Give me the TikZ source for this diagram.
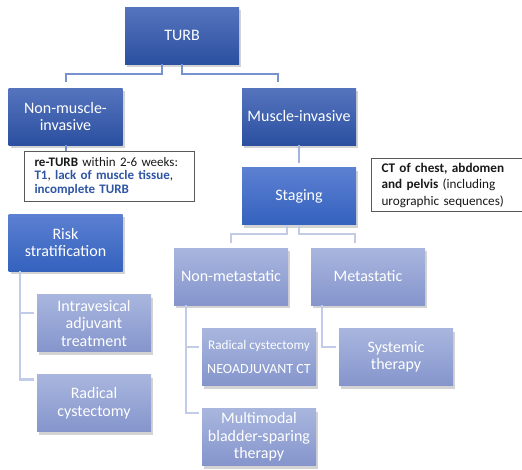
\documentclass[tikz,border=0pt]{standalone}
\usepackage{fontspec}
\setmainfont{Carlito}
\usepackage{tikz}
\usetikzlibrary{positioning, shadows, calc}
\definecolor{darktop}{RGB}{86,116,190}
\definecolor{darkbot}{RGB}{43,80,160}
\definecolor{midtop}{RGB}{92,128,210}
\definecolor{midbot}{RGB}{52,98,190}
\definecolor{lighttop}{RGB}{168,182,222}
\definecolor{lightbot}{RGB}{133,149,204}
\definecolor{linkblue}{RGB}{120,146,208}
\definecolor{linkmid}{RGB}{165,180,222}
\definecolor{linkpale}{RGB}{194,204,232}
\definecolor{noteblue}{RGB}{47,85,164}

\tikzset{
    darkbox/.style={minimum width=114pt, minimum height=57pt, inner sep=2pt, align=center,
        text=white, font=\fontsize{16}{17.5}\selectfont, top color=darktop, bottom color=darkbot,
        drop shadow={opacity=0.35, shadow xshift=2pt, shadow yshift=-3pt}},
    midbox/.style={darkbox, top color=midtop, bottom color=midbot},
    lightbox/.style={darkbox, top color=lighttop, bottom color=lightbot},
    notebox/.style={draw=black!65, line width=1pt, fill=white, align=left, anchor=north west,
        text=black!90, inner xsep=10pt},
    toplink/.style={draw=linkblue, line width=2pt},
    midlink/.style={draw=linkmid, line width=2.5pt},
    lowlink/.style={draw=linkpale, line width=2.5pt}
}

\begin{document}
\begin{tikzpicture}[x=1pt, y=-1pt]
    \useasboundingbox (0,0) rectangle (522,469);

    % first levels
    \node[darkbox] (turb) at (182,35.5) {TURB};
    \node[darkbox] (nmi) at (65.5,116.5) {Non-muscle-\\invasive};
    \node[darkbox] (mi) at (299,116.5) {Muscle-invasive};
    \node[midbox] (staging) at (299,196) {Staging};
    \node[midbox] (risk) at (65.5,242.5) {Risk\\stratification};

    % notes
    \node[notebox, minimum width=170pt, minimum height=50pt, text width=150pt,
          font=\fontsize{13}{13.4}\selectfont] (returb) at (24,151) {
        \textbf{re-TURB} within 2-6 weeks:\\
        \textcolor{noteblue}{\textbf{T1}}, \textcolor{noteblue}{\textbf{lack of muscle tissue}},\\
        \textcolor{noteblue}{\textbf{incomplete TURB}}
    };
    \node[notebox, minimum width=153pt, minimum height=53pt, text width=133pt,
          font=\fontsize{13.2}{16.5}\selectfont] (ct) at (371,158) {
        \textbf{CT of chest, abdomen}\\
        \textbf{and pelvis} (including\\
        urographic sequences)
    };

    % lower levels
    \node[lightbox] (nonmet) at (231,276.5) {Non-metastatic};
    \node[lightbox] (met) at (368,276.5) {Metastatic};
    \node[lightbox] (intra) at (94,323) {Intravesical\\adjuvant\\treatment};
    \node[lightbox] (radl) at (94,403) {Radical\\cystectomy};
    \node[lightbox] (rcneo) at (259,357) {\fontsize{13.2}{15}\selectfont Radical cystectomy\\[6pt]
        \fontsize{14}{15}\selectfont NEOADJUVANT CT};
    \node[lightbox] (syst) at (396,357) {Systemic\\therapy};
    \node[lightbox] (multi) at (259,437) {Multimodal\\bladder-sparing\\therapy};

    % connectors
    \draw[toplink] ([xshift=-20pt]turb.south) -- ++(0,9.5) -| ([yshift=5.5pt]nmi.north);
    \draw[toplink] (turb.south) -- ++(0,9.5) -| ([xshift=-21pt,yshift=5.5pt]mi.north);
    \draw[toplink] (nmi.south) -- (returb.north -| nmi.south);
    \draw[midlink] (mi.south) -- ([yshift=4pt]staging.north);
    \draw[lowlink] ([xshift=-12pt]staging.south) -- ++(0,9.5) -| ([yshift=5pt]nonmet.north);
    \draw[lowlink] (staging.south) -- ++(0,9.5) -| ([xshift=-13pt,yshift=5pt]met.north);
    \draw[lowlink] ([xshift=-45.5pt]risk.south) |- ([xshift=-3pt,yshift=10pt]intra.west);
    \draw[lowlink] ([xshift=-45.5pt]risk.south) |- ([xshift=-3pt,yshift=23.5pt]radl.west);
    \draw[lowlink] ([xshift=-45pt]nonmet.south) |- ([xshift=-3pt,yshift=10pt]rcneo.west);
    \draw[lowlink] ([xshift=-45pt]nonmet.south) |- ([xshift=-3pt,yshift=24pt]multi.west);
    \draw[lowlink] ([xshift=-46pt]met.south) |- ([xshift=-3pt,yshift=10pt]syst.west);
\end{tikzpicture}
\end{document}
